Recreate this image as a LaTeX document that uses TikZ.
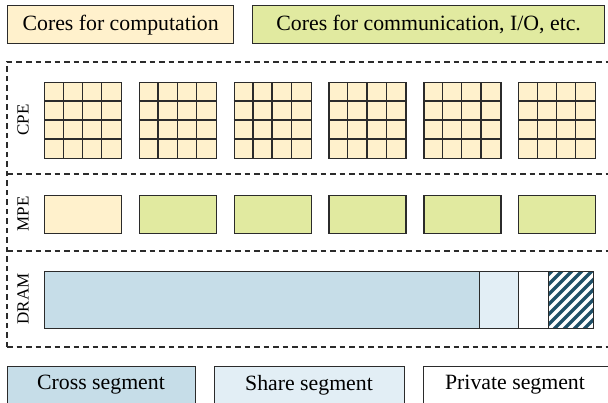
\documentclass[tikz,border=0pt]{standalone}
\usepackage{fontspec}
\setmainfont{Liberation Serif}
\usetikzlibrary{calc}
\definecolor{cpu}{HTML}{FFF1CC}
\definecolor{comm}{HTML}{E1EAA0}
\definecolor{cross}{HTML}{C6DDE8}
\definecolor{share}{HTML}{E2EEF5}
\definecolor{hatchc}{HTML}{1F5068}
\definecolor{edge}{HTML}{2B2B2B}
\begin{document}
\begin{tikzpicture}[x=1pt,y=-1pt,
  box/.style={draw=edge,line width=1.3pt,inner sep=0pt,anchor=north west},
  legtext/.style={font=\fontsize{21.8}{24}\selectfont},
  sidelbl/.style={font=\fontsize{17}{20}\selectfont,rotate=90},
  frame/.style={draw=edge,line width=1.2pt,dash pattern=on 5.5pt off 4pt}]
\clip (0,0) rectangle (608,402);
\fill[white] (0,0) rectangle (608,402);
% top legend
\node[box,fill=cpu,minimum width=226pt,minimum height=38pt,legtext] (lcomp) at (7,5) {Cores for computation};
\node[box,fill=comm,minimum width=352pt,minimum height=38pt,legtext] (lcomm) at (252,5) {Cores for communication, I/O, etc.};
% dashed frame
\draw[frame] (7,347) -- (7,62) -- (620,62);
\draw[frame] (7,174) -- (620,174);
\draw[frame] (7,251) -- (620,251);
\draw[frame] (7,347) -- (620,347);
% side labels
\node[sidelbl] (cpe) at (23,120) {CPE};
\node[sidelbl] (mpe) at (23,214) {MPE};
\node[sidelbl] (dram) at (23,299) {DRAM};
% CPE grids
\foreach \i in {0,...,5} {
  \pgfmathsetmacro\xx{44+94.8*\i}
  \node[box,fill=cpu,minimum width=77pt,minimum height=76pt] (g\i) at (\xx,82) {};
  \foreach \k in {1,2,3} {
    \draw[edge,line width=1.3pt] ($(g\i.north west)+(19.25*\k,0)$) -- ($(g\i.south west)+(19.25*\k,0)$);
    \draw[edge,line width=1.3pt] ($(g\i.north west)+(0,19*\k)$) -- ($(g\i.north east)+(0,19*\k)$);
  }
}
% MPE boxes
\node[box,fill=cpu,minimum width=77pt,minimum height=38pt] (m0) at (44,195) {};
\foreach \i in {1,...,5} {
  \pgfmathsetmacro\xx{44+94.8*\i}
  \node[box,fill=comm,minimum width=77pt,minimum height=38pt] (m\i) at (\xx,195) {};
}
% DRAM
\node[box,fill=cross,minimum width=435pt,minimum height=57pt] (dcross) at (44,271) {};
\node[box,fill=share,minimum width=39pt,minimum height=57pt] (dshare) at (479,271) {};
\node[box,fill=white,minimum width=30pt,minimum height=57pt] (dpriv) at (518,271) {};
\begin{scope}
  \clip (548,271) rectangle (593,328);
  \foreach \k in {-70,-60,...,50} {
    \draw[hatchc,line width=3.2pt] (548+\k,335) -- ++(70,-70);
  }
\end{scope}
\node[box,minimum width=45pt,minimum height=57pt] (dhatch) at (548,271) {};
% bottom legend
\node[box,fill=cross,minimum width=188pt,minimum height=56pt] (lcross) at (7,366) {};
\node[box,fill=share,minimum width=190pt,minimum height=56pt] (lshare) at (214,366) {};
\node[box,fill=white,minimum width=200pt,minimum height=56pt] (lpriv) at (423,366) {};
\node[legtext] (tcross) at (101,385) {Cross segment};
\node[legtext] (tshare) at (309,385) {Share segment};
\node[legtext] (tpriv) at (515,385) {Private segment};
\end{tikzpicture}
\end{document}
